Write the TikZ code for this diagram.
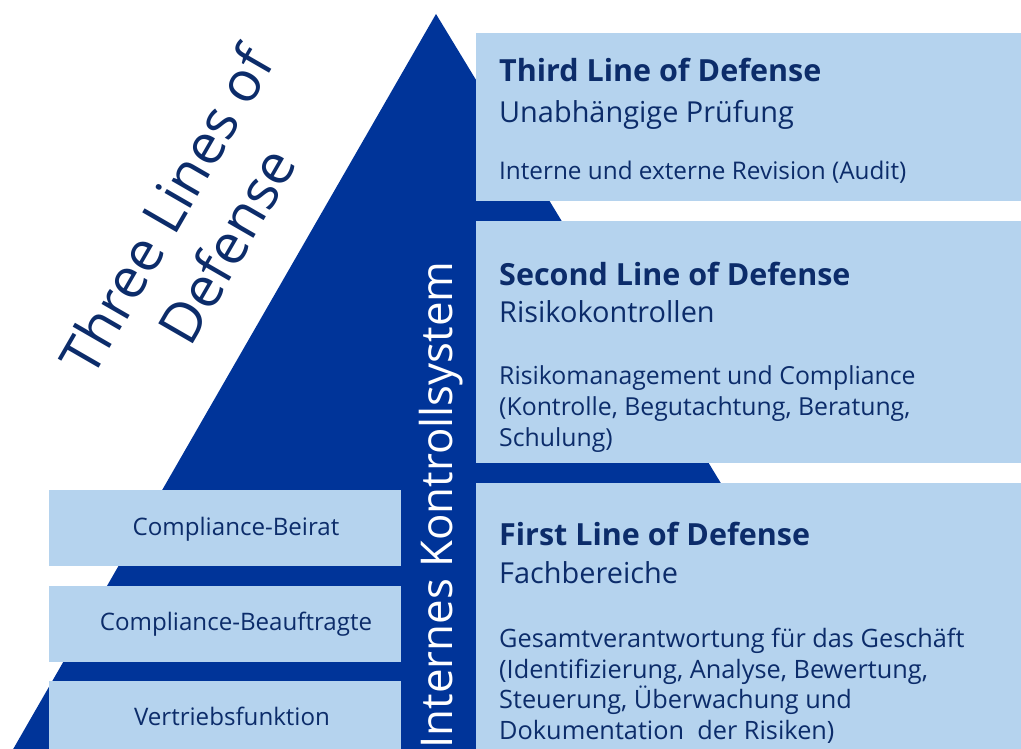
\documentclass[tikz,border=0pt]{standalone}
\usepackage{fontspec}
\setmainfont{Open Sans}
\definecolor{darkblue}{RGB}{0,52,153}
\definecolor{lightblue}{RGB}{181,211,238}
\definecolor{navy}{RGB}{12,44,106}
\tikzset{
  box/.style={fill=lightblue, draw=none, inner sep=0pt, anchor=north west},
  ttl/.style={font=\fontsize{30.6}{37}\selectfont\bfseries, text=navy, anchor=base west, inner sep=0pt},
  sub/.style={font=\fontsize{29}{34}\selectfont, text=navy, anchor=base west, inner sep=0pt},
  body/.style={font=\fontsize{#1}{30}\selectfont, text=navy, anchor=base west, inner sep=0pt},
  lbl/.style={font=\fontsize{24.2}{30}\selectfont, text=navy, anchor=base, inner sep=0pt},
}
\begin{document}
\begin{tikzpicture}[x=1bp,y=-1bp]
\useasboundingbox (0,0) rectangle (1021,749);
\fill[white] (0,0) rectangle (1021,749);
% pyramid
\fill[darkblue] (436,14) -- (892,765) -- (4,765) -- cycle;
% right boxes
\node[box, minimum width=560bp, minimum height=168bp] (b3) at (476,33) {};
\node[box, minimum width=560bp, minimum height=242bp] (b2) at (476,221) {};
\node[box, minimum width=560bp, minimum height=280bp] (b1) at (476,483) {};
% left boxes
\node[box, minimum width=352bp, minimum height=76bp] (l1) at (49,490) {};
\node[box, minimum width=352bp, minimum height=76bp] (l2) at (49,586) {};
\node[box, minimum width=352bp, minimum height=80bp] (l3) at (49,681) {};
% third line texts
\node[ttl] (t3a) at (499,82) {Third Line of Defense};
\node[sub] (t3b) at (499,122) {Unabhängige Prüfung};
\node[body=24.4] (t3c) at (499,179) {Interne und externe Revision (Audit)};
% second line texts
\node[ttl] (t2a) at (499,285) {Second Line of Defense};
\node[sub] (t2b) at (499,322) {Risikokontrollen};
\node[body=24.9] (t2c) at (499,384) {Risikomanagement und Compliance};
\node[body=24.9] (t2d) at (499,415) {(Kontrolle, Begutachtung, Beratung,};
\node[body=24.9] (t2e) at (499,446) {Schulung)};
% first line texts
\node[ttl] (t1a) at (499,545) {First Line of Defense};
\node[sub] (t1b) at (499,583) {Fachbereiche};
\node[body=25.4] (t1c) at (499,647) {Gesamtverantwortung für das Geschäft};
\node[body=25.4] (t1d) at (499,678) {(Identifizierung, Analyse, Bewertung,};
\node[body=25.4] (t1e) at (499,708) {Steuerung, Überwachung und};
\node[body=25.4] (t1f) at (499,739) {Dokumentation\ \ der Risiken)};
% left labels
\node[lbl] (c1) at (236,535) {Compliance-Beirat};
\node[lbl] (c2) at (236,630) {Compliance-Beauftragte};
\node[lbl] (c3) at (232,725) {Vertriebsfunktion};
% vertical text
\node[font=\fontsize{44}{50}\selectfont, text=white, rotate=90, anchor=base, inner sep=0pt] (iks) at (452,505) {Internes Kontrollsystem};
% diagonal title
\node[font=\fontsize{56}{70}\selectfont, text=navy, rotate=60, align=center, inner sep=0pt] (tld) at (196,228) {Three Lines of\\Defense};
\end{tikzpicture}
\end{document}
